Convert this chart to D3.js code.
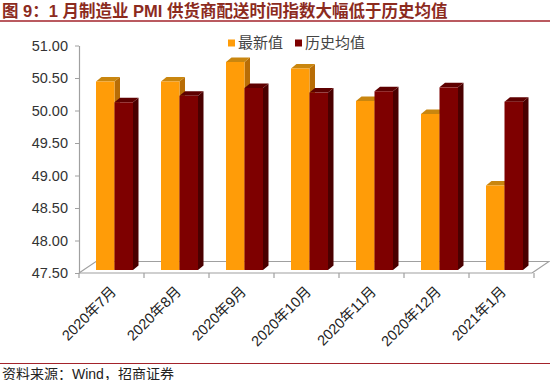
<!DOCTYPE html>
<html>
<head>
<meta charset="utf-8">
<script src="https://cdn.jsdelivr.net/npm/d3@7"></script>
<style>
  body { margin: 0; background: #fff; }
  svg { display: block; font-family: Arial, "Liberation Sans", "Noto Sans CJK SC", sans-serif; }
</style>
</head>
<body>
<svg id="chart" width="550" height="380"></svg>
<script>
// data
const months = ["2020年7月", "2020年8月", "2020年9月", "2020年10月", "2020年11月", "2020年12月", "2021年1月"]
const latest = [50.4, 50.4, 50.7, 50.6, 50.1, 49.9, 48.8]
const histAvg = [50.08, 50.18, 50.30, 50.23, 50.25, 50.31, 50.09]
const yTicks = [47.5, 48.0, 48.5, 49.0, 49.5, 50.0, 50.5, 51.0]
const seriesNames = ["最新值", "历史均值"]

const svg = d3.select("#chart")

// title + rules
svg.append("text")
    .attr("x", 2).attr("y", 17)
    .attr("font-size", 16.5).attr("font-weight", "bold")
    .attr("fill", "#8c2b1e")
    .attr("font-family", "Arial, 'Noto Sans CJK SC', sans-serif")
    .text("图 9：1 月制造业 PMI 供货商配送时间指数大幅低于历史均值")

svg.append("line").attr("x1", 0).attr("x2", 550).attr("y1", 21).attr("y2", 21)
    .attr("stroke", "#a3232b").attr("stroke-width", 1.5)

svg.append("line").attr("x1", 0).attr("x2", 550).attr("y1", 363.5).attr("y2", 363.5)
    .attr("stroke", "#a3232b").attr("stroke-width", 1)

svg.append("text")
    .attr("x", 2).attr("y", 378.5)
    .attr("font-size", 14).attr("fill", "#222")
    .text("资料来源：Wind，招商证券")

// scales
const x = d3.scaleBand().domain(months).range([79, 534]).padding(0)
const yAxisScale = d3.scaleLinear().domain([47.5, 51]).range([273, 45.5])
const yBar = d3.scaleLinear().domain([47.5, 51]).range([270, 42.5])

// floor
const floor = svg.append("g").attr("stroke", "#a0a0a0").attr("stroke-width", 1.2).attr("fill", "none")
const fx0 = 79, fx1 = 532, fdx = 17, fdy = 11.5, fy = 273
floor.append("path")
    .attr("d", `M${fx0},${fy} L${fx0 + fdx},${fy - fdy} L${fx1 + fdx},${fy - fdy} L${fx1},${fy}`)

// y axis
const yAxis = svg.append("g")
    .attr("transform", "translate(79,0)")
    .call(d3.axisLeft(yAxisScale).tickValues(yTicks).tickFormat(d3.format(".2f")).tickSize(4).tickSizeOuter(0))
yAxis.select(".domain").attr("stroke", "#a0a0a0").attr("stroke-width", 1.2)
yAxis.selectAll(".tick line").attr("stroke", "#a0a0a0")
yAxis.selectAll(".tick text")
    .attr("font-size", 14.5).attr("fill", "#333").attr("x", -11)
    .attr("font-family", "Arial, 'Liberation Sans', sans-serif")

// x axis: front edge, ticks at band edges, rotated labels
svg.append("line").attr("x1", fx0).attr("x2", fx1).attr("y1", fy).attr("y2", fy)
    .attr("stroke", "#a0a0a0").attr("stroke-width", 1.2)

const edges = months.map(m => x(m)).concat([x.range()[1]])
svg.append("g").selectAll("line").data(edges).join("line")
    .attr("x1", d => d).attr("x2", d => d)
    .attr("y1", fy).attr("y2", fy + 5)
    .attr("stroke", "#a0a0a0").attr("stroke-width", 1.2)

svg.append("g").selectAll("text").data(months).join("text")
    .attr("transform", d => `translate(${x(d) + x.bandwidth() / 2 + 2},${289}) rotate(-45)`)
    .attr("text-anchor", "end")
    .attr("dy", "0.35em")
    .attr("font-size", 14.5)
    .attr("fill", "#222")
    .text(d => d)

// 3d bars
const colors = [
    { front: "#ff9c08", top: "#c9860f", side: "#b86d06" },
    { front: "#7e0000", top: "#5e0000", side: "#4a0000" }
]
const barW = 18.5, dx = 5.5, dy = 4.5
const offsets = [17, 35.5]

function drawBar(g, x0, val, c) {
    const yt = yBar(val), yb = yBar(47.5)
    g.append("path")
        .attr("d", `M${x0 + barW},${yt} L${x0 + barW + dx},${yt - dy} L${x0 + barW + dx},${yb - dy} L${x0 + barW},${yb} Z`)
        .attr("fill", c.side)
    g.append("path")
        .attr("d", `M${x0},${yt} L${x0 + dx},${yt - dy} L${x0 + barW + dx},${yt - dy} L${x0 + barW},${yt} Z`)
        .attr("fill", c.top)
    g.append("rect")
        .attr("x", x0).attr("y", yt)
        .attr("width", barW).attr("height", yb - yt)
        .attr("fill", c.front)
}

const bars = svg.append("g")
months.forEach((m, i) => {
    drawBar(bars, x(m) + offsets[0], latest[i], colors[0])
    drawBar(bars, x(m) + offsets[1], histAvg[i], colors[1])
})

// legend
const legend = svg.append("g").attr("transform", "translate(228,43)")
const legX = [0, 67]
seriesNames.forEach((name, i) => {
    legend.append("rect")
        .attr("x", legX[i]).attr("y", -3.5).attr("width", 7).attr("height", 7)
        .attr("fill", colors[i].front)
    legend.append("text")
        .attr("x", legX[i] + 10).attr("y", 0).attr("dy", "0.36em")
        .attr("font-size", 15).attr("fill", "#444")
        .attr("font-family", "'Noto Sans CJK SC', sans-serif")
        .text(name)
})
</script>
</body>
</html>
